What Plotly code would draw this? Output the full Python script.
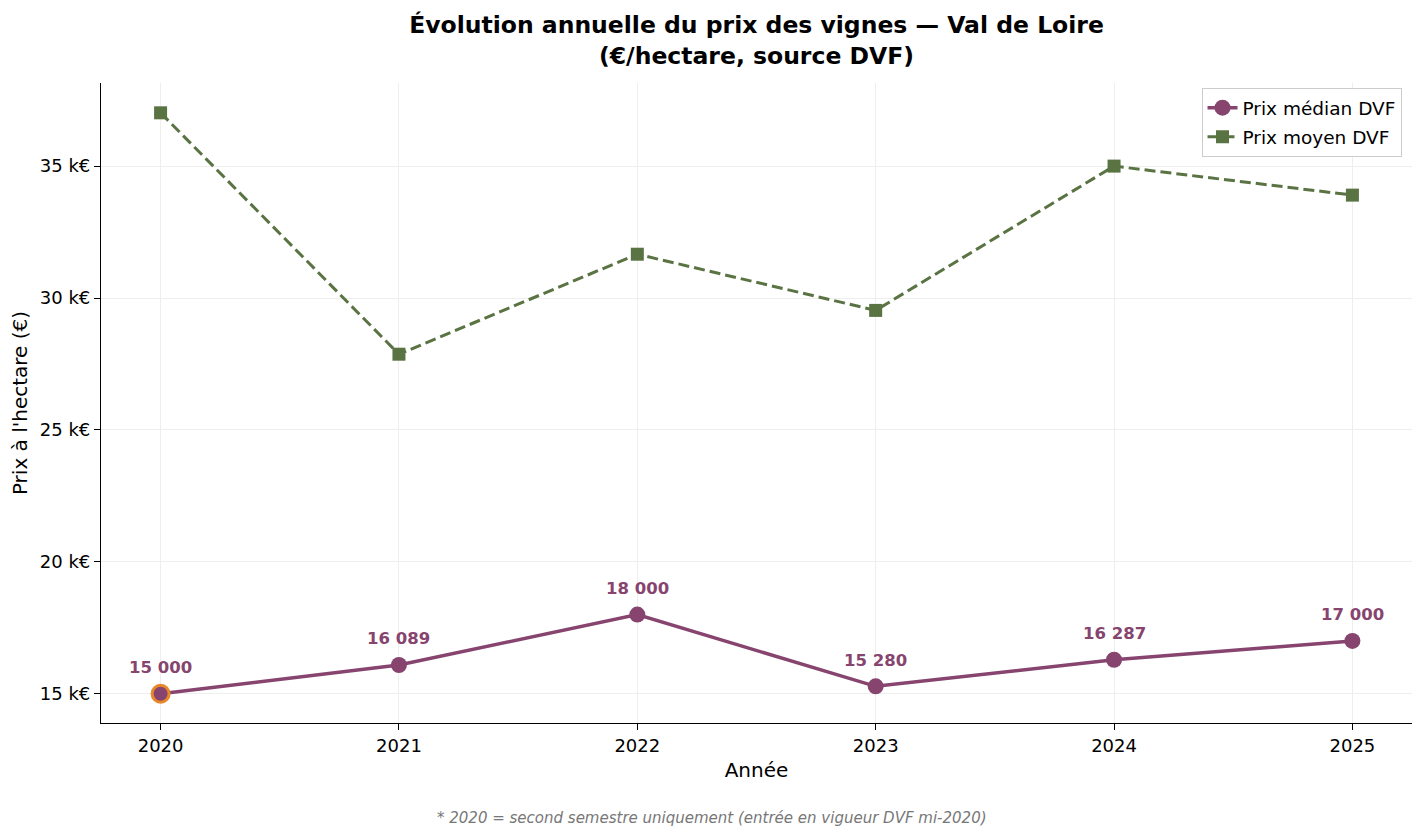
import plotly.graph_objects as go

years = [2020, 2021, 2022, 2023, 2024, 2025]
median_price = [15000, 16089, 18000, 15280, 16287, 17000]
mean_price = [37020, 27870, 31660, 29530, 35000, 33900]
ytick_vals = [15000, 20000, 25000, 30000, 35000]
ytick_text = ["15 k€", "20 k€", "25 k€", "30 k€", "35 k€"]

PURPLE = "#86446E"
GREEN = "#5A7343"
ORANGE = "#E8882A"
FONT = "DejaVu Sans"

W, H = 1424, 838
ML, MR, MT, MB = 101, 12, 83, 115

fig = go.Figure()

fig.add_trace(go.Scatter(
    x=years, y=median_price, mode="lines+markers", name="Prix médian DVF",
    legendgroup="med",
    line=dict(color=PURPLE, width=3.5),
    marker=dict(symbol="circle", size=16, color=PURPLE),
))
fig.add_trace(go.Scatter(
    x=years, y=mean_price, mode="lines+markers", name="Prix moyen DVF",
    legendgroup="moy",
    line=dict(color=GREEN, width=3, dash="11px,5px"),
    marker=dict(symbol="square", size=13, color=GREEN),
))
# highlight 2020 (partial year)
fig.add_trace(go.Scatter(
    x=[years[0]], y=[median_price[0]], mode="markers", showlegend=False,
    legendgroup="med",
    marker=dict(symbol="circle", size=17, color=PURPLE, line=dict(color=ORANGE, width=3)),
    hoverinfo="skip",
))

for x, v in zip(years, median_price):
    fig.add_annotation(
        x=x, y=v, text="<b>" + f"{v:,}".replace(",", " ") + "</b>",
        showarrow=False, yshift=26, font=dict(family=FONT, size=16.5, color=PURPLE),
    )

plot_w = W - ML - MR
plot_h = H - MT - MB
fig.add_annotation(
    xref="paper", yref="paper",
    x=(W / 2 - ML) / plot_w, y=(MT + plot_h - 818) / plot_h,
    text="<i>* 2020 = second semestre uniquement (entrée en vigueur DVF mi-2020)</i>",
    showarrow=False, font=dict(family=FONT, size=15, color="#777777"),
    xanchor="center", yanchor="middle",
)

fig.update_layout(
    width=W, height=H,
    margin=dict(l=ML, r=MR, t=MT, b=MB),
    paper_bgcolor="white", plot_bgcolor="white",
    font=dict(family=FONT, size=18, color="black"),
    title=dict(
        text="<b>Évolution annuelle du prix des vignes — Val de Loire<br>(€/hectare, source DVF)</b>",
        x=0.5, xref="paper", xanchor="center",
        y=1 - 33 / H, yref="container", yanchor="top",
        font=dict(family=FONT, size=23.5, color="black"),
    ),
    legend=dict(
        x=0.992, y=0.992, xanchor="right", yanchor="top",
        bordercolor="#cccccc", borderwidth=1, bgcolor="rgba(255,255,255,0.9)",
        font=dict(family=FONT, size=18.5, color="black"),
        tracegroupgap=2, traceorder="grouped",
    ),
    showlegend=True,
)

fig.update_xaxes(
    range=[2019.75, 2025.25], tickvals=years, ticktext=[str(y) for y in years],
    showline=True, linecolor="black", linewidth=1.2, mirror=False,
    ticks="outside", ticklen=6, tickcolor="black", tickwidth=1.2,
    showgrid=True, gridcolor="#eeeeee", gridwidth=1, zeroline=False,
    title=dict(text="Année", font=dict(family=FONT, size=20), standoff=8),
    tickfont=dict(family=FONT, size=18),
)
fig.update_yaxes(
    range=[13890, 38150], tickvals=ytick_vals, ticktext=ytick_text,
    showline=True, linecolor="black", linewidth=1.2, mirror=False,
    ticks="outside", ticklen=6, tickcolor="black", tickwidth=1.2,
    showgrid=True, gridcolor="#eeeeee", gridwidth=1, zeroline=False,
    title=dict(text="Prix à l'hectare (€)", font=dict(family=FONT, size=20), standoff=6),
    tickfont=dict(family=FONT, size=18),
)

fig.write_html("out.html")
